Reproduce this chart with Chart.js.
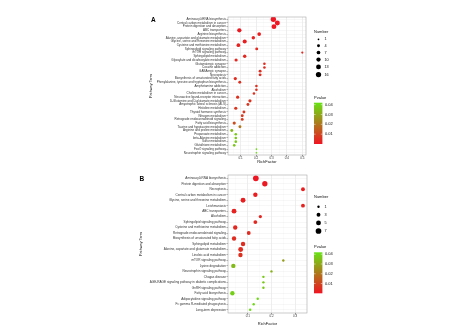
<!DOCTYPE html>
<html>
<head>
<meta charset="utf-8">
<script src="https://cdn.jsdelivr.net/npm/chart.js@4.4.1/dist/chart.umd.min.js"></script>
<style>
  html, body { margin: 0; padding: 0; background: #fff; }
  body { width: 474px; height: 335px; position: relative; overflow: hidden; }
  canvas { position: absolute; left: 0; }
</style>
</head>
<body>
<canvas id="chartA" width="474" height="170" style="top:0px"></canvas>
<canvas id="chartB" width="474" height="170" style="top:165px"></canvas>
<script>
// ---- panel A data ----
const termsA = [
  "Aminoacyl-tRNA biosynthesis",
  "Central carbon metabolism in cancer",
  "Protein digestion and absorption",
  "ABC transporters",
  "Arginine biosynthesis",
  "Alanine, aspartate and glutamate metabolism",
  "Glycine, serine and threonine metabolism",
  "Cysteine and methionine metabolism",
  "Sphingolipid signaling pathway",
  "mTOR signaling pathway",
  "Sphingolipid metabolism",
  "Glyoxylate and dicarboxylate metabolism",
  "Glutamatergic synapse",
  "Cocaine addiction",
  "GABAergic synapse",
  "Necroptosis",
  "Biosynthesis of unsaturated fatty acids",
  "Phenylalanine, tyrosine and tryptophan biosynthesis",
  "Amphetamine addiction",
  "Alcoholism",
  "Choline metabolism in cancer",
  "Neuroactive ligand-receptor interaction",
  "D-Glutamine and D-glutamate metabolism",
  "Amyotrophic lateral sclerosis (ALS)",
  "Histidine metabolism",
  "Thyroid hormone synthesis",
  "Nitrogen metabolism",
  "Retrograde endocannabinoid signaling",
  "Fatty acid biosynthesis",
  "Taurine and hypotaurine metabolism",
  "Arginine and proline metabolism",
  "Propanoate metabolism",
  "beta-Alanine metabolism",
  "Sulfur metabolism",
  "Glutathione metabolism",
  "FoxO signaling pathway",
  "Neurotrophin signaling pathway"
];
const richA = [0.312, 0.338, 0.316, 0.091, 0.22, 0.182, 0.126, 0.085, 0.204, 0.5,
  0.126, 0.07, 0.254, 0.254, 0.226, 0.226, 0.065, 0.094, 0.202, 0.202,
  0.186, 0.08, 0.16, 0.147, 0.068, 0.121, 0.11, 0.11, 0.058, 0.095,
  0.042, 0.068, 0.068, 0.068, 0.058, 0.202, 0.202];
const countA = [16, 14, 13, 10, 7, 6, 9, 7, 4, 2,
  6, 5, 3, 3, 4, 4, 5, 4, 3, 3,
  3, 5, 5, 4, 5, 4, 4, 4, 5, 4,
  4, 3, 3, 3, 3, 1, 1];
const pvalA = [0.0005, 0.0008, 0.001, 0.001, 0.002, 0.003, 0.002, 0.003, 0.004, 0.004,
  0.004, 0.004, 0.005, 0.005, 0.005, 0.005, 0.005, 0.006, 0.006, 0.006,
  0.006, 0.006, 0.006, 0.007, 0.007, 0.007, 0.008, 0.008, 0.012, 0.02,
  0.033, 0.037, 0.037, 0.037, 0.036, 0.04, 0.04];
const sizeKeysA = [1, 4, 7, 10, 13, 16];
const xTicksA = [0.1, 0.2, 0.3, 0.4, 0.5];

// ---- panel B data ----
const termsB = [
  "Aminoacyl-tRNA biosynthesis",
  "Protein digestion and absorption",
  "Necroptosis",
  "Central carbon metabolism in cancer",
  "Glycine, serine and threonine metabolism",
  "Leishmaniasis",
  "ABC transporters",
  "Alcoholism",
  "Sphingolipid signaling pathway",
  "Cysteine and methionine metabolism",
  "Retrograde endocannabinoid signaling",
  "Biosynthesis of unsaturated fatty acids",
  "Sphingolipid metabolism",
  "Alanine, aspartate and glutamate metabolism",
  "Linoleic acid metabolism",
  "mTOR signaling pathway",
  "Lysine degradation",
  "Neurotrophin signaling pathway",
  "Chagas disease",
  "AGE-RAGE signaling pathway in diabetic complications",
  "GnRH signaling pathway",
  "Fatty acid biosynthesis",
  "Adipocytokine signaling pathway",
  "Fc gamma R-mediated phagocytosis",
  "Long-term depression"
];
const richB = [0.134, 0.172, 0.333, 0.132, 0.08, 0.333, 0.042, 0.153, 0.132, 0.047,
  0.104, 0.042, 0.08, 0.07, 0.069, 0.25, 0.039, 0.2, 0.166, 0.166,
  0.166, 0.035, 0.142, 0.125, 0.11];
const countB = [7, 6, 3, 4, 5, 3, 5, 2, 3, 4,
  3, 4, 4, 5, 4, 1, 4, 1, 1, 1,
  1, 4, 1, 1, 1];
const pvalB = [0.0005, 0.001, 0.002, 0.002, 0.002, 0.003, 0.003, 0.004, 0.004, 0.004,
  0.005, 0.005, 0.005, 0.005, 0.006, 0.028, 0.034, 0.032, 0.037, 0.037,
  0.037, 0.038, 0.04, 0.04, 0.041];
const sizeKeysB = [1, 3, 5, 7];
const xTicksB = [0.1, 0.2, 0.3];

const pTicks = [0.01, 0.02, 0.03, 0.04];
const pMin = 0, pMax = 0.042;

const FONT = "'Liberation Sans', Arial, sans-serif";

function pColor(p) {
  const t = Math.max(0, Math.min(1, (p - pMin) / (pMax - pMin)));
  const lo = [240, 20, 34], hi = [104, 226, 22];
  const c = lo.map((v, i) => Math.round(v + (hi[i] - v) * t));
  return `rgb(${c[0]},${c[1]},${c[2]})`;
}
const radiusA = n => 0.25 + 0.6 * Math.sqrt(n);
const radiusB = n => 0.2 + Math.sqrt(n);

// border, panel letter, size legend and colour bar
const extras = {
  id: 'extras',
  afterDraw(chart, args, o) {
    const ctx = chart.ctx;
    const a = chart.chartArea;
    ctx.save();
    ctx.strokeStyle = '#a8a8a8';
    ctx.lineWidth = 0.6;
    ctx.strokeRect(a.left, a.top, a.right - a.left, a.bottom - a.top);

    ctx.textBaseline = 'middle';
    ctx.textAlign = 'left';
    ctx.fillStyle = '#000';
    ctx.font = `bold 6.5px ${FONT}`;
    ctx.fillText(o.letter, o.letterX, o.letterY);

    const lx = o.legendX;
    ctx.fillStyle = '#111';
    ctx.font = `4px ${FONT}`;
    ctx.fillText('Number', lx, o.sizeY);
    o.sizes.forEach((n, i) => {
      const y = o.sizeY + o.sizeGap + o.sizeStep * i + o.sizeGrow * i * i;
      ctx.beginPath();
      ctx.arc(lx + 4.5, y, o.radius(n), 0, Math.PI * 2);
      ctx.fillStyle = '#000';
      ctx.fill();
      ctx.fillStyle = '#111';
      ctx.font = `3.8px ${FONT}`;
      ctx.fillText(String(n), lx + 10.5, y);
    });

    ctx.font = `4px ${FONT}`;
    ctx.fillText('Pvalue', lx, o.pTitleY);
    const top = o.barTop, bot = o.barBottom, w = 8.4;
    const g = ctx.createLinearGradient(0, bot, 0, top);
    for (let k = 0; k <= 10; k++) g.addColorStop(k / 10, pColor(pMin + (pMax - pMin) * k / 10));
    ctx.fillStyle = g;
    ctx.fillRect(lx, top, w, bot - top);
    pTicks.forEach(p => {
      const yy = bot - (p - pMin) / (pMax - pMin) * (bot - top);
      ctx.strokeStyle = '#fff';
      ctx.lineWidth = 0.5;
      ctx.beginPath();
      ctx.moveTo(lx, yy); ctx.lineTo(lx + 1.6, yy);
      ctx.moveTo(lx + w - 1.6, yy); ctx.lineTo(lx + w, yy);
      ctx.stroke();
      ctx.fillStyle = '#111';
      ctx.font = `4px ${FONT}`;
      ctx.fillText(p.toFixed(2), lx + w + 2.5, yy);
    });
    ctx.restore();
  }
};

function makeChart(id, p) {
  const isMajor = v => p.majors.some(m => Math.abs(m - v) < 1e-9);
  const minors = p.majors.map(v => v - 0.05).concat(p.majors.map(v => v + 0.05))
    .filter(v => v > p.xMin && v < p.xMax && !isMajor(v));
  const allX = [...new Set(p.majors.concat(minors).map(v => +v.toFixed(3)))].sort((a, b) => a - b);
  return new Chart(document.getElementById(id).getContext('2d'), {
    type: 'bubble',
    data: {
      datasets: [{
        data: p.rich.map((x, i) => ({ x: x, y: i, r: p.radius(p.count[i]) })),
        backgroundColor: p.pval.map(pColor),
        borderWidth: 0,
        hoverBorderWidth: 0
      }]
    },
    options: {
      responsive: false,
      animation: false,
      events: [],
      layout: { padding: { left: p.padLeft, top: p.plotTop, right: 474 - p.plotRight, bottom: 0 } },
      plugins: { legend: { display: false }, tooltip: { enabled: false }, extras: p.extras },
      scales: {
        x: {
          type: 'linear',
          min: p.xMin,
          max: p.xMax,
          afterBuildTicks: s => { s.ticks = allX.map(v => ({ value: v })); },
          afterFit: s => { s.height = 170 - p.plotBottom; },
          ticks: {
            autoSkip: false, maxRotation: 0, padding: 0,
            font: { size: 3, family: FONT }, color: '#333',
            callback: v => isMajor(v) ? v.toFixed(1) : ''
          },
          grid: {
            color: c => isMajor(c.tick.value) ? '#e3e3e3' : '#f2f2f2',
            lineWidth: c => isMajor(c.tick.value) ? 0.6 : 0.35,
            tickColor: c => isMajor(c.tick.value) ? '#333' : 'rgba(0,0,0,0)',
            tickLength: 1.5
          },
          border: { display: false },
          title: {
            display: true, text: 'RichFactor', color: '#111',
            font: { size: 4, family: FONT }, padding: { top: 0, bottom: p.xTitlePad }
          }
        },
        y: {
          type: 'linear',
          reverse: true,
          min: -0.6,
          max: p.terms.length - 0.4,
          afterBuildTicks: s => { s.ticks = p.terms.map((t, i) => ({ value: i })); },
          afterFit: s => { s.width = p.plotLeft - p.padLeft; },
          ticks: {
            autoSkip: false, padding: 0.6,
            font: { size: p.labelSize, family: FONT }, color: '#333',
            callback: v => p.terms[v]
          },
          grid: { color: '#ececec', lineWidth: 0.4, tickColor: '#333', tickLength: 1.5 },
          border: { display: false },
          title: {
            display: true, text: 'Pathway Term', color: '#111',
            font: { size: 3.8, family: FONT }, padding: 0
          }
        }
      }
    },
    plugins: [extras]
  });
}

makeChart('chartA', {
  terms: termsA, rich: richA, count: countA, pval: pvalA, radius: radiusA,
  majors: xTicksA, xMin: 0.0175, xMax: 0.524,
  padLeft: 149, plotLeft: 228, plotRight: 306, plotTop: 17, plotBottom: 155,
  labelSize: 3, xTitlePad: 5.6,
  extras: {
    letter: 'A', letterX: 151, letterY: 20.5, radius: radiusA,
    legendX: 314, sizeY: 32.3, sizeGap: 7, sizeStep: 6.3, sizeGrow: 0.15, sizes: sizeKeysA,
    pTitleY: 98, barTop: 102.7, barBottom: 144
  }
});

makeChart('chartB', {
  terms: termsB, rich: richB, count: countB, pval: pvalB, radius: radiusB,
  majors: xTicksB, xMin: 0.0165, xMax: 0.35,
  padLeft: 138.5, plotLeft: 228, plotRight: 307, plotTop: 10, plotBottom: 148,
  labelSize: 3.1, xTitlePad: 8.6,
  extras: {
    letter: 'B', letterX: 139.5, letterY: 14, radius: radiusB,
    legendX: 314, sizeY: 32.3, sizeGap: 9.4, sizeStep: 8.1, sizeGrow: 0, sizes: sizeKeysB,
    pTitleY: 82.3, barTop: 87.3, barBottom: 128.3
  }
});
</script>
</body>
</html>
